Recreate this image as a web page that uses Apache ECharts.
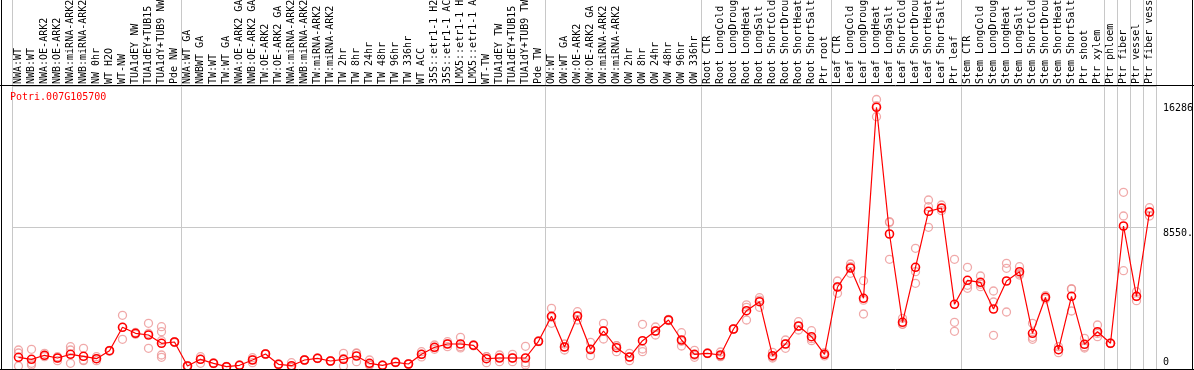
<!DOCTYPE html>
<html><head><meta charset="utf-8">
<script src="https://cdn.jsdelivr.net/npm/echarts@6/dist/echarts.min.js"></script>
<style>html,body{margin:0;padding:0;background:#fff}#c{width:1194px;height:370px}</style>
</head><body><div id="c"></div>
<script>
const geneId = 'Potri.007G105700';

const categories = [
  'NWA:WT','NWB:WT','NWA:OE-ARK2','NWB:OE-ARK2','NWA:miRNA-ARK2','NWB:miRNA-ARK2','NW 0hr','WT H2O','WT-NW','TUA1dEY NW','TUA1dEY+TUB15 NW','TUA1dY+TUB9 NW','Pde NW',
  'NWA:WT GA','NWBWT GA','TW:WT','TW:WT GA','NWA:OE-ARK2 GA','NWB:OE-ARK2 GA','TW:OE-ARK2','TW:OE-ARK2 GA','NWA:miRNA-ARK2','NWB:miRNA-ARK2','TW:miRNA-ARK2','TW:miRNA-ARK2',
  'TW 2hr','TW 8hr','TW 24hr','TW 48hr','TW 96hr','TW 336hr','WT ACC','35S::etr1-1 H2O','35S::etr1-1 ACC','LMX5::etr1-1 H2O','LMX5::etr1-1 ACC','WT-TW','TUA1dEY TW','TUA1dEY+TUB15 TW','TUA1dY+TUB9 TW','Pde TW',
  'OW:WT','OW:WT GA','OW:OE-ARK2','OW:OE-ARK2 GA','OW:miRNA-ARK2','OW:miRNA-ARK2','OW 2hr','OW 8hr','OW 24hr','OW 48hr','OW 96hr','OW 336hr',
  'Root CTR','Root LongCold','Root LongDrought','Root LongHeat','Root LongSalt','Root ShortCold','Root ShortDrought','Root ShortHeat','Root ShortSalt','Ptr root',
  'Leaf CTR','Leaf LongCold','Leaf LongDrought','Leaf LongHeat','Leaf LongSalt','Leaf ShortCold','Leaf ShortDrought','Leaf ShortHeat','Leaf ShortSalt','Ptr leaf',
  'Stem CTR','Stem LongCold','Stem LongDrought','Stem LongHeat','Stem LongSalt','Stem ShortCold','Stem ShortDrought','Stem ShortHeat','Stem ShortSalt','Ptr shoot','Ptr xylem',
  'Ptr phloem','Ptr fiber','Ptr vessel','Ptr fiber vessel'
];

const means = [
  707,586,828,665,888,767,622,1106,2520,2157,2054,1553,1631,
  181,586,344,139,224,544,906,284,199,544,647,483,
  586,786,344,224,405,302,888,1311,1511,1511,1432,622,665,665,665,1674,
  3184,1329,3203,1190,2296,1287,725,1710,2296,2961,1752,888,
  949,846,2417,3523,4067,804,1511,2598,1952,888,
  4955,6103,4272,15813,8157,2822,6145,9529,9728,3909,
  5360,5239,3626,5317,5879,2157,4332,1166,4393,1492,2254,
  1553,8641,4393,9487
];

const replicates = [
  [1148,967,181],[1190,344,242],[949,743,828],[502,743,665],[1347,1148,344],[1251,544,506],[502,743,622],[1080,1106,1130],[3245,1795,2520],[2100,2157,2210],[2761,1251,2150],[2556,2254,1710,846,707],[1600,1650,1640],
  [150,200,190],[743,344,586],[320,344,370],[120,140,160],[210,230,235],[683,381,570],[880,906,930],[260,290,300],[381,120,100],[520,544,570],[630,650,660],[460,490,500],
  [949,181,628],[949,441,968],[544,250,240],[200,230,240],[380,410,425],[280,300,325],[1045,888,730],[1450,1190,1293],[1650,1347,1536],[1915,1347,1271],[1400,1432,1460],[743,381,742],[846,441,708],[888,441,666],[1372,242,381],[1650,1700,1680],
  [3668,2761,3124],[1148,1329,1510],[3462,2961,3186],[1613,804,1153],[2761,1813,2314],[1408,1045,1408],[949,502,725],[2701,1045,1208],[2538,2054,2296],[3003,2961,2920],[2193,1390,1673],[1130,707,827],
  [930,949,970],[1027,743,768],[2400,2420,2430],[3728,2961,3880],[4308,3728,4165],[1009,665,738],[1752,1251,1530],[2858,2357,2580],[2314,1710,1832],[985,888,790],
  [5317,4574,4974],[6345,5783,6180],[5335,3323,4158],[16286,15245,15908],[8900,8860,6629],[3064,2700,2700],[7293,5879,5178],[10212,9807,8562],[9910,9565,9700],[6629,2822,2278],
  [6145,4876,5059],[5619,4973,5125],[4713,4048,2036],[6387,6085,3444],[6181,5680,5776],[2761,1795,1915],[4429,4332,4235],[1347,985,1166],[4834,3505,4840],[1855,1347,1270],[2659,1952,2150],
  [1540,1560,1560],[10677,9245,5940],[4671,4127,4381],[9746,9245,9470]
];

const groupStarts = [0,13,41,53,63,73,84,85,86,87,88];
const yTickValues = [0, 8550.15, 16286];
const yTickLabels = ['0', '8550.', '16286'];
const axisMax = 17100.3;

const mono = 'DejaVu Sans Mono';
const repPoints = [];
replicates.forEach((arr, i) => arr.forEach(v => repPoints.push([i, v])));

const chart = echarts.init(document.getElementById('c'), null, {renderer: 'canvas'});
const gridL = 12, gridR = 38;
chart.setOption({
  animation: false,
  backgroundColor: '#fff',
  title: {
    text: geneId, left: 10, top: 92, padding: 0,
    textStyle: {color: '#ff0000', fontSize: 10, fontFamily: mono, fontWeight: 'normal'}
  },
  grid: [
    {left: gridL, right: gridR, top: 86, bottom: 1, containLabel: false, outerBoundsMode: 'none'},
    {left: gridL, right: gridR, top: 0, height: 86, containLabel: false, outerBoundsMode: 'none'}
  ],
  xAxis: [
    {
      type: 'category', gridIndex: 0, position: 'top', data: categories, boundaryGap: true,
      axisLine: {show: false, onZero: false}, axisTick: {show: false},
      axisLabel: {interval: 0, rotate: -90, margin: 2, fontFamily: mono, fontSize: 10, color: '#000', hideOverlap: false},
      splitLine: {show: true, interval: (i) => groupStarts.includes(i), lineStyle: {color: '#c8c8c8', width: 1}}
    },
    {
      type: 'category', gridIndex: 1, data: categories, boundaryGap: true,
      axisLine: {show: false}, axisTick: {show: false}, axisLabel: {show: false},
      splitLine: {show: true, interval: (i) => groupStarts.includes(i), lineStyle: {color: '#c8c8c8', width: 1}}
    }
  ],
  yAxis: [
    {
      type: 'value', gridIndex: 0, position: 'right', min: 0, max: axisMax, interval: axisMax / 2,
      axisLine: {show: false}, axisTick: {show: false},
      splitLine: {show: true, lineStyle: {color: '#c8c8c8', width: 1}},
      axisLabel: {
        customValues: yTickValues, margin: 7, fontFamily: mono, fontSize: 10, color: '#000',
        formatter: (v) => {
          const k = yTickValues.findIndex(t => Math.abs(t - v) < 1);
          const s = k >= 0 ? yTickLabels[k] : '';
          if (k === 0) return '{b|' + s + '}';
          if (k === 1) return '{m|' + s + '}';
          return '{t|' + s + '}';
        },
        rich: {
          t: {padding: [17, 0, 0, 0], fontFamily: mono, fontSize: 10, color: '#000'},
          m: {padding: [11, 0, 0, 0], fontFamily: mono, fontSize: 10, color: '#000'},
          b: {padding: [0, 0, 14, 0], fontFamily: mono, fontSize: 10, color: '#000'}
        }
      }
    },
    {type: 'value', gridIndex: 1, show: false}
  ],
  series: [
    {
      type: 'scatter', xAxisIndex: 0, yAxisIndex: 0, data: repPoints,
      symbol: 'circle', symbolSize: 8,
      itemStyle: {color: 'rgba(0,0,0,0)', borderColor: '#ec9494', borderWidth: 1.3},
      z: 2
    },
    {
      type: 'line', xAxisIndex: 0, yAxisIndex: 0, data: means,
      symbol: 'circle', symbolSize: 8,
      lineStyle: {color: '#ff0000', width: 1.2},
      itemStyle: {color: 'rgba(0,0,0,0)', borderColor: '#ff0000', borderWidth: 1.6},
      z: 3
    }
  ],
  graphic: [
    {type: 'line', shape: {x1: 1.5, y1: 0, x2: 1.5, y2: 370}, style: {stroke: '#000', lineWidth: 1}, z: 100},
    {type: 'line', shape: {x1: 1192.5, y1: 0, x2: 1192.5, y2: 370}, style: {stroke: '#000', lineWidth: 1}, z: 100},
    {type: 'line', shape: {x1: 0, y1: 369.5, x2: 1194, y2: 369.5}, style: {stroke: '#000', lineWidth: 1}, z: 100},
    {type: 'line', shape: {x1: 0, y1: 85.5, x2: 1194, y2: 85.5}, style: {stroke: '#000', lineWidth: 1}, z: 100}
  ]
});
</script>
</body></html>
